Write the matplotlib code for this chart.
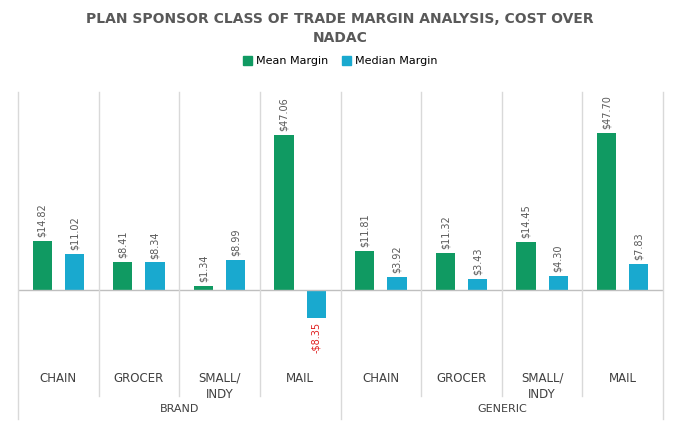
import matplotlib
matplotlib.use("Agg")
import matplotlib.pyplot as plt
import numpy as np
from matplotlib.transforms import blended_transform_factory

categories = ["CHAIN", "GROCER", "SMALL/\nINDY", "MAIL", "CHAIN", "GROCER", "SMALL/\nINDY", "MAIL"]
groups = ["BRAND", "GENERIC"]
mean_margin = [14.82, 8.41, 1.34, 47.06, 11.81, 11.32, 14.45, 47.70]
median_margin = [11.02, 8.34, 8.99, -8.35, 3.92, 3.43, 4.30, 7.83]

green = "#109A62"
blue = "#19A9CF"
W, H = 680, 430
fig = plt.figure(figsize=(W/100, H/100), dpi=100)
ax = fig.add_axes([18/W, (H-356)/H, 645/W, 264/H])
x = np.arange(len(categories))
bw = 0.24
ax.bar(x - 0.2, mean_margin, bw, color=green)
ax.bar(x + 0.2, median_margin, bw, color=blue)
ax.set_xlim(-0.5, len(categories) - 0.5)
ax.set_ylim(-20, 60)
ax.axis("off")
ax.axhline(0, color="#BFBFBF", lw=1)

for xi, vals, off in [(x, mean_margin, -0.2), (x, median_margin, 0.2)]:
    for i, v in enumerate(vals):
        if v >= 0:
            ax.text(i + off, v + 1.2, f"${v:.2f}", rotation=90, ha="center", va="bottom",
                    fontsize=7, color="#595959")
        else:
            ax.text(i + off, v - 1.2, f"-${-v:.2f}", rotation=90, ha="center", va="top",
                    fontsize=7, color="#E02020")

tr = blended_transform_factory(ax.transData, ax.transAxes)
# separators
for b in np.arange(-0.5, len(categories), 1.0):
    bottom = -0.24 if b in (-0.5, 3.5, 7.5) else -0.15
    ax.plot([b, b], [1.0, bottom], transform=tr, color="#D9D9D9", lw=1, clip_on=False)
for i, c in enumerate(categories):
    ax.text(i, -0.06, c, transform=tr, ha="center", va="top", fontsize=8.5,
            color="#404040", linespacing=1.3, fontfamily="DejaVu Sans")
for gi, g in enumerate(groups):
    ax.text(1.5 + 4 * gi, -0.2, g, transform=tr, ha="center", va="center", fontsize=8,
            color="#404040")

fig.text(0.5, 0.895, "PLAN SPONSOR CLASS OF TRADE MARGIN ANALYSIS, COST OVER\nNADAC",
         ha="center", va="bottom", fontsize=10, fontweight="bold", color="#595959",
         linespacing=1.5)
ax.legend([plt.Rectangle((0, 0), 1, 1, color=green), plt.Rectangle((0, 0), 1, 1, color=blue)],
          ["Mean Margin", "Median Margin"], loc="lower center", bbox_to_anchor=(0.5, 1.06),
          ncol=2, frameon=False, fontsize=8, handlelength=0.8, handleheight=0.8,
          columnspacing=1.2, handletextpad=0.4)
fig.savefig("out.png", dpi=100)
